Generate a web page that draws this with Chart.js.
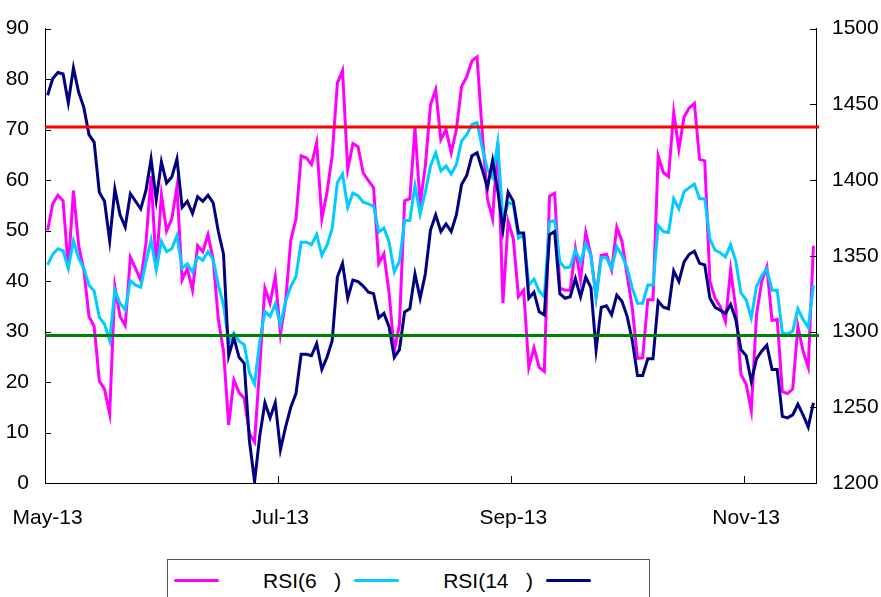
<!DOCTYPE html>
<html><head><meta charset="utf-8">
<script src="https://cdn.jsdelivr.net/npm/chart.js@4.4.0/dist/chart.umd.min.js"></script>
<style>
html,body{margin:0;padding:0;background:#fff;}
#wrap{position:relative;width:881px;height:597px;overflow:hidden;}
#legend{position:absolute;left:167px;top:559px;width:483px;height:42px;border:1px solid #555;box-sizing:border-box;display:flex;align-items:center;padding-left:6px;background:#fff;}
#legend .ln{display:inline-block;width:45px;height:3px;border-radius:1.5px;margin-right:44px;}
#legend .tx{white-space:pre;margin-right:13px;font-family:"Liberation Sans",Arial,sans-serif;font-size:21px;color:#000;line-height:1;}
</style></head><body>
<div id="wrap"><canvas id="c" width="881" height="597"></canvas><div id="legend"></div></div>
<script>
const tickLabels = ["May-13", "Jul-13", "Sep-13", "Nov-13"];
const tickEvery = 45;

const rsi6 = [50.0,55.3,57.0,55.9,42.5,57.9,47.1,42.2,33.0,31.0,20.2,18.6,13.7,38.9,33.0,31.2,44.7,42.5,40.2,47.4,
60.8,42.5,57.1,49.9,52.3,58.7,40.2,42.5,38.2,47.0,45.8,49.2,44.3,32.4,26.1,11.5,20.4,17.9,16.8,9.8,
8.1,23.0,38.6,35.6,40.9,29.5,36.0,48.1,52.3,64.8,64.4,63.1,67.4,52.3,57.6,64.8,79.2,81.7,62.1,67.2,
66.6,61.4,59.9,58.5,43.5,45.4,37.6,26.1,31.4,55.9,56.3,70.3,55.3,62.8,74.9,77.9,68.0,70.0,65.4,70.0,
78.5,80.5,83.6,84.4,69.4,56.3,52.3,67.4,35.6,51.8,48.4,36.9,38.2,22.9,26.8,22.9,22.1,56.8,57.4,38.6,
38.2,38.2,46.4,40.2,49.6,45.1,36.9,45.1,45.3,42.2,50.7,47.9,41.2,34.6,24.7,24.8,36.3,36.3,64.8,61.5,
60.7,73.4,66.1,72.5,74.3,75.2,64.1,63.8,39.9,36.6,35.0,32.0,42.2,34.6,21.5,19.6,14.3,33.3,39.9,42.8,
32.2,32.4,18.1,17.7,18.6,31.0,26.1,22.9,47.0];

const rsi14 = [43.2,45.3,46.4,46.0,42.5,48.0,44.5,42.5,39.2,38.0,32.8,31.5,28.2,38.2,35.6,34.3,40.1,39.2,38.8,43.7,
48.1,42.2,47.9,45.8,46.4,49.0,42.5,43.4,41.8,44.8,44.1,45.8,44.3,39.2,35.3,27.8,29.7,28.1,27.4,21.9,
19.6,28.1,34.0,33.0,35.4,31.4,36.0,38.9,40.9,47.7,47.7,47.2,49.2,45.1,47.1,50.4,59.5,61.2,54.6,57.4,
56.9,55.6,55.3,54.8,49.7,50.5,47.7,41.8,43.9,52.0,52.0,58.9,53.3,57.6,62.8,65.4,61.8,62.8,61.2,63.1,
67.7,69.0,71.0,71.4,66.4,62.1,60.5,67.4,51.7,55.6,55.3,48.5,49.1,39.2,40.4,38.0,36.9,51.7,52.0,43.8,
42.6,42.8,46.1,43.7,47.4,45.1,36.7,44.6,44.6,42.5,46.8,45.1,42.6,38.6,35.6,35.6,39.2,39.2,51.0,49.8,
49.6,56.3,54.3,57.7,58.5,59.2,56.3,56.3,48.3,46.1,45.6,44.8,47.2,43.9,37.6,36.3,32.7,38.9,41.1,42.4,
38.2,38.2,29.7,29.5,30.1,34.5,32.4,30.8,39.2];

const gold = [1456,1467,1471,1470,1451,1474,1458,1448,1430,1425,1392,1386,1360,1394,1377,1369,1391,1386,1381,1393,
1414,1387,1412,1398,1402,1414,1382,1386,1378,1389,1386,1390,1385,1366,1351,1284,1296,1283,1279,1228,
1201,1231,1253,1243,1253,1222,1237,1250,1259,1285,1285,1284,1292,1275,1283,1294,1336,1345,1322,1334,
1333,1330,1326,1325,1309,1312,1303,1283,1288,1313,1315,1338,1322,1338,1367,1377,1366,1371,1366,1377,
1397,1403,1416,1418,1407,1395,1413,1393,1367,1392,1386,1365,1365,1322,1326,1313,1311,1364,1366,1325,
1322,1323,1335,1323,1336,1329,1288,1316,1317,1311,1324,1320,1310,1294,1271,1271,1282,1282,1320,1316,
1315,1340,1333,1346,1351,1353,1345,1344,1322,1316,1314,1312,1318,1308,1288,1284,1267,1282,1287,1291,
1275,1275,1244,1243,1245,1252,1245,1237,1253];

const overbought = 70.5;
const oversold = 29.2;
const seriesNames = ["RSI(6   )", "RSI(14   )", ""];
const seriesColors = ["#FF00FF", "#00CCFF", "#000080"];
const lineColors = ["#FF0000", "#008000"];

const categories = rsi6.map((_, i) => (i % tickEvery === 0 && tickLabels[i / tickEvery]) ? tickLabels[i / tickEvery] : "");
const FONT = '"Liberation Sans", Arial, sans-serif';
const FSIZE = 21;

const extras = {
  id: 'extras',
  afterDatasetsDraw(chart) {
    const {ctx, chartArea: a, scales} = chart;
    ctx.save();
    [[overbought, lineColors[0]], [oversold, lineColors[1]]].forEach(([v, c]) => {
      const py = scales.y.getPixelForValue(v);
      ctx.strokeStyle = c; ctx.lineWidth = 3;
      ctx.beginPath(); ctx.moveTo(a.left, py); ctx.lineTo(a.right + 3, py); ctx.stroke();
    });
    ctx.restore();
  },
  afterDraw(chart) {
    const {ctx, chartArea: a, scales} = chart;
    ctx.save();
    ctx.strokeStyle = '#000'; ctx.lineWidth = 1;
    ctx.beginPath();
    scales.y.ticks.forEach(t => {
      const py = Math.round(scales.y.getPixelForValue(t.value)) + 0.5;
      ctx.moveTo(a.left, py); ctx.lineTo(a.left + 6, py);
    });
    scales.y2.ticks.forEach(t => {
      const py = Math.round(scales.y2.getPixelForValue(t.value)) + 0.5;
      ctx.moveTo(a.right - 6, py); ctx.lineTo(a.right, py);
    });
    categories.forEach((lab, i) => {
      if (lab && i > 0) {
        const px = Math.round((scales.x.getPixelForValue(i - 1) + scales.x.getPixelForValue(i)) / 2) + 0.5;
        ctx.moveTo(px, a.bottom - 7); ctx.lineTo(px, a.bottom);
      }
    });
    ctx.stroke();
    ctx.restore();
  }
};

const mk = (data, idx, axis, order) => ({
  label: seriesNames[idx], data, yAxisID: axis, borderColor: seriesColors[idx],
  backgroundColor: seriesColors[idx], borderWidth: 3, pointRadius: 0, tension: 0, fill: false, order
});

new Chart(document.getElementById('c'), {
  type: 'line',
  data: {
    labels: categories,
    datasets: [mk(rsi6, 0, 'y', 3), mk(rsi14, 1, 'y', 2), mk(gold, 2, 'y2', 1)]
  },
  options: {
    responsive: false, animation: false,
    layout: {padding: {top: 25, left: 0, right: 0, bottom: 0}},
    plugins: {legend: {display: false}, tooltip: {enabled: false}},
    scales: {
      x: {
        type: 'category', offset: true,
        grid: {display: false, drawTicks: false, offset: true},
        border: {display: true, color: '#000', width: 1},
        ticks: {autoSkip: false, maxRotation: 0, padding: 23, color: '#000', font: {family: FONT, size: FSIZE}},
        afterFit(s) { s.height = 114; s.paddingLeft = 0; s.paddingRight = 0; }
      },
      y: {
        position: 'left', min: 0, max: 90,
        grid: {display: false, drawTicks: false},
        border: {display: true, color: '#000', width: 1},
        ticks: {stepSize: 10, padding: 16, color: '#000', font: {family: FONT, size: FSIZE}, callback: v => String(v)},
        afterFit(s) { s.width = 45; }
      },
      y2: {
        position: 'right', min: 1200, max: 1500,
        grid: {display: false, drawTicks: false},
        border: {display: true, color: '#000', width: 1},
        ticks: {stepSize: 50, padding: 16, color: '#000', font: {family: FONT, size: FSIZE}, callback: v => String(v)},
        afterFit(s) { s.width = 65; }
      }
    }
  },
  plugins: [extras]
});

const leg = document.getElementById('legend');
seriesNames.forEach((name, i) => {
  const ln = document.createElement('span');
  ln.className = 'ln'; ln.style.background = seriesColors[i];
  const tx = document.createElement('span');
  tx.className = 'tx'; tx.textContent = name;
  leg.appendChild(ln); leg.appendChild(tx);
});
</script>
</body></html>
